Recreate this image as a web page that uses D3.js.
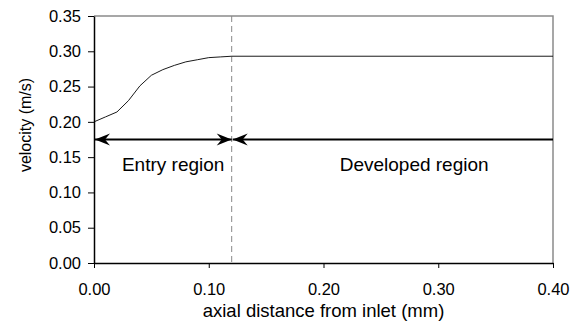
<!DOCTYPE html>
<html>
<head>
<meta charset="utf-8">
<script src="https://cdn.jsdelivr.net/npm/d3@7/dist/d3.min.js"></script>
<style>
  body { margin: 0; background: #fff; }
  text { font-family: "Liberation Sans", Arial, sans-serif; fill: #000; }
</style>
</head>
<body>
<svg id="chart" width="572" height="324"></svg>
<script>
// velocity profile along the axis
var distance = [0.00, 0.01, 0.02, 0.03, 0.04, 0.05, 0.06, 0.07, 0.08, 0.09, 0.10, 0.11, 0.12, 0.40];
var velocity = [0.200, 0.207, 0.214, 0.230, 0.251, 0.266, 0.274, 0.280, 0.285, 0.288, 0.291, 0.292, 0.293, 0.293];
var xTicks = [0.00, 0.10, 0.20, 0.30, 0.40];
var yTicks = [0.00, 0.05, 0.10, 0.15, 0.20, 0.25, 0.30, 0.35];
var entryEnd = 0.12;
var arrowLevel = 0.175;
var regionLabels = ["Entry region", "Developed region"];
var regionCentres = [0.069, 0.279];

var svg = d3.select("#chart");
var margin = { top: 16, right: 19, bottom: 61, left: 94 };
var width = +svg.attr("width") - margin.left - margin.right;
var height = +svg.attr("height") - margin.top - margin.bottom;

var x = d3.scaleLinear().domain([0, 0.4]).range([margin.left, margin.left + width]);
var y = d3.scaleLinear().domain([0, 0.35]).range([margin.top + height, margin.top]);

// arrowheads
var defs = svg.append("defs");
defs.append("marker")
  .attr("id", "head")
  .attr("markerUnits", "userSpaceOnUse")
  .attr("viewBox", "-16 -7 17 14")
  .attr("refX", 0).attr("refY", 0)
  .attr("markerWidth", 17).attr("markerHeight", 14)
  .attr("orient", "auto-start-reverse")
  .append("path")
  .attr("d", "M0,0L-15,-6L-10,0L-15,6Z")
  .attr("fill", "#000");

// top and right border
svg.append("path")
  .attr("d", "M" + x(0) + "," + y(0.35) + "H" + x(0.4) + "V" + y(0))
  .attr("fill", "none").attr("stroke", "#8a8a8a").attr("stroke-width", 1.5);

// boundary between the two regions
svg.append("line")
  .attr("x1", x(entryEnd)).attr("x2", x(entryEnd))
  .attr("y1", y(0.35)).attr("y2", y(0))
  .attr("stroke", "#888").attr("stroke-width", 1)
  .attr("stroke-dasharray", "6,4");

// velocity curve
var line = d3.line()
  .x(function (d, i) { return x(distance[i]); })
  .y(function (d) { return y(d); });
svg.append("path")
  .datum(velocity)
  .attr("d", line)
  .attr("fill", "none").attr("stroke", "#1a1a1a").attr("stroke-width", 1);

// region arrows
svg.append("line")
  .attr("x1", x(0) + 1).attr("x2", x(entryEnd))
  .attr("y1", y(arrowLevel)).attr("y2", y(arrowLevel))
  .attr("stroke", "#000").attr("stroke-width", 2)
  .attr("marker-start", "url(#head)").attr("marker-end", "url(#head)");
svg.append("line")
  .attr("x1", x(entryEnd) + 1).attr("x2", x(0.4))
  .attr("y1", y(arrowLevel)).attr("y2", y(arrowLevel))
  .attr("stroke", "#000").attr("stroke-width", 2)
  .attr("marker-start", "url(#head)");

svg.selectAll(".region")
  .data(regionLabels)
  .enter()
  .append("text")
  .attr("class", "region")
  .attr("x", function (d, i) { return x(regionCentres[i]); })
  .attr("y", 171)
  .attr("text-anchor", "middle")
  .style("font-size", "19px")
  .text(function (d) { return d; });

// axes
var xAxis = svg.append("g")
  .attr("transform", "translate(0," + y(0) + ")")
  .call(d3.axisBottom(x).tickValues(xTicks).tickFormat(d3.format(".2f")).tickSize(5).tickSizeOuter(0));
var yAxis = svg.append("g")
  .attr("transform", "translate(" + x(0) + ",0)")
  .call(d3.axisLeft(y).tickValues(yTicks).tickFormat(d3.format(".2f")).tickSize(6).tickSizeOuter(0));

[xAxis, yAxis].forEach(function (a) {
  a.select(".domain").attr("stroke", "#000").attr("stroke-width", 1.5);
  a.selectAll(".tick line").attr("stroke", "#000").attr("stroke-width", 1);
  a.selectAll(".tick text").style("font-size", "16.5px").attr("fill", "#000")
    .style("font-family", "'Liberation Sans', Arial, sans-serif");
});
xAxis.selectAll(".tick text").attr("y", 20).attr("dy", "0.71em");
yAxis.selectAll(".tick text").attr("x", -13);

svg.append("text")
  .attr("x", (x(0) + x(0.4)) / 2)
  .attr("y", 317)
  .attr("text-anchor", "middle")
  .style("font-size", "18.5px")
  .text("axial distance from inlet (mm)");

svg.append("text")
  .attr("transform", "translate(31,125) rotate(-90)")
  .attr("text-anchor", "middle")
  .style("font-size", "16px")
  .text("velocity (m/s)");
</script>
</body>
</html>
